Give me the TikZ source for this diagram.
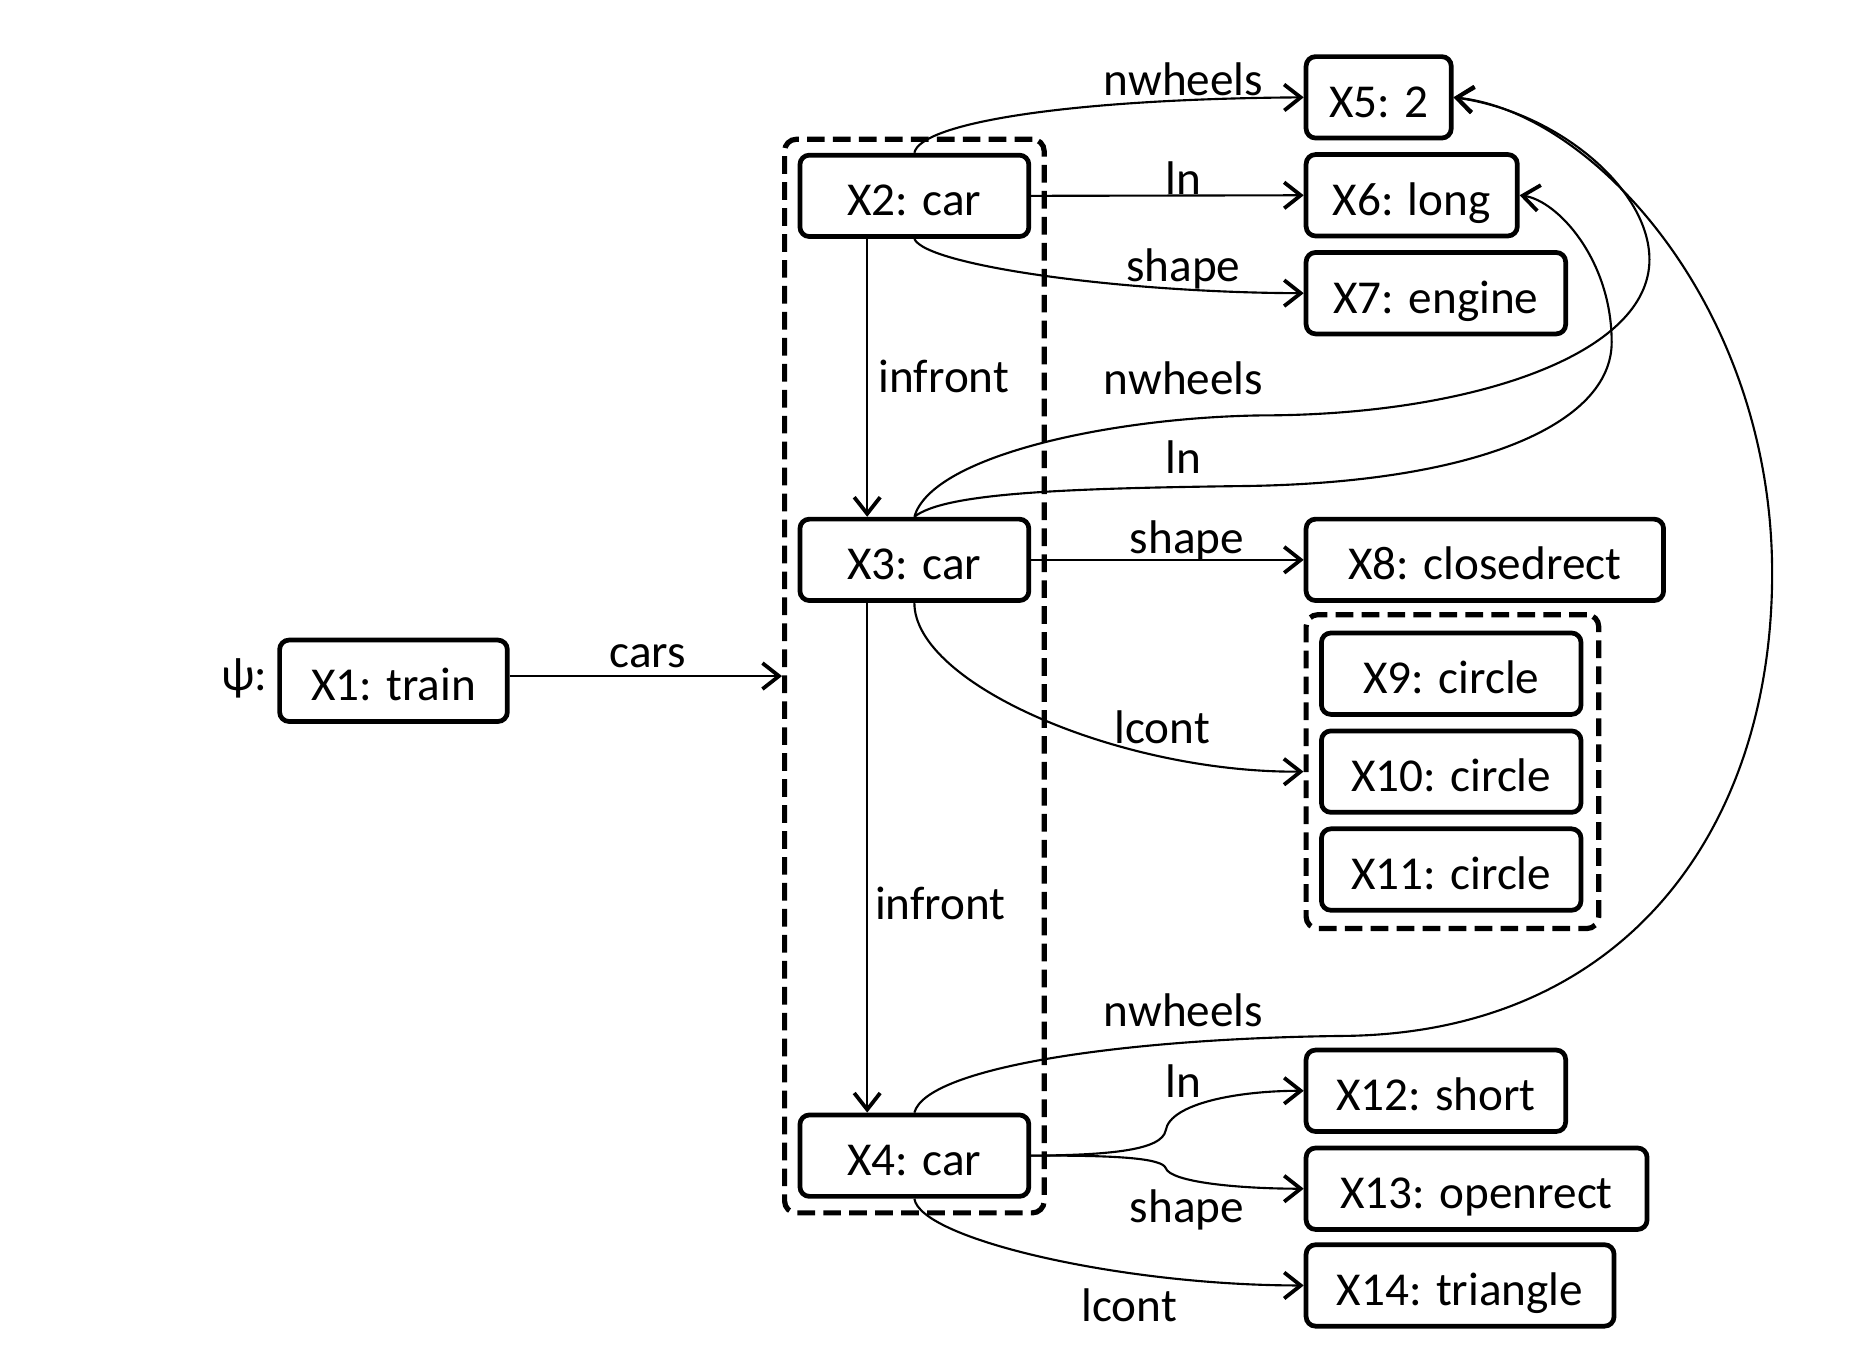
\documentclass[tikz,border=0pt]{standalone}
\usepackage{fontspec}
\setmainfont{Carlito}
\usetikzlibrary{arrows.meta}
\begin{document}
\begin{tikzpicture}[x=0.5pt,y=-0.5pt,
  font=\fontsize{20pt}{24pt}\selectfont,
  box/.style={draw, line width=2pt, rounded corners=4pt, inner sep=0pt, minimum height=34.5pt, text height=17pt, text depth=0pt},
  grp/.style={draw, line width=2.2pt, dash pattern=on 7.5pt off 3.5pt, rounded corners=5pt, inner sep=0pt},
  edge/.style={line width=0.9pt, -{Straight Barb[length=7pt,width=11pt,line width=1.6pt]}},
  lbl/.style={anchor=base, inner sep=0pt}]
\useasboundingbox (0,0) rectangle (1568,1151);
% boxes
\node[box, minimum width=96.5pt] (X1) at (333.5,577) {X1: train};
\node[box, minimum width=97pt] (X2) at (775,166) {X2: car};
\node[box, minimum width=97pt] (X3) at (775,474.5) {X3: car};
\node[box, minimum width=97pt] (X4) at (775,979.5) {X4: car};
\node[box, minimum width=61.5pt] (X5) at (1168.5,82.5) {X5: 2};
\node[box, minimum width=89.5pt] (X6) at (1196.5,165.5) {X6: long};
\node[box, minimum width=110pt] (X7) at (1217,248.5) {X7: engine};
\node[box, minimum width=151.5pt] (X8) at (1258.5,474.5) {X8: closedrect};
\node[box, minimum width=110pt] (X9) at (1230,571) {X9: circle};
\node[box, minimum width=110pt] (X10) at (1230,654) {X10: circle};
\node[box, minimum width=110pt] (X11) at (1230,737) {X11: circle};
\node[box, minimum width=110pt] (X12) at (1217,924.5) {X12: short};
\node[box, minimum width=144.5pt] (X13) at (1251.5,1007.5) {X13: openrect};
\node[box, minimum width=130.5pt] (X14) at (1237.5,1089.5) {X14: triangle};
% groups
\node[grp, minimum width=110pt, minimum height=455pt] (cars) at (775,573) {};
\node[grp, minimum width=124pt, minimum height=133pt] (circ) at (1231,654) {};
\node[lbl] (psi) at (207,585) {ψ:};
% connectors
\coordinate (X1out) at ([yshift=2pt]X1.east);
\draw[edge] (X1out) -- (cars.west |- X1out);
\coordinate (inf) at (735,0);
\draw[edge] (X2.south -| inf) -- (X3.north -| inf);
\draw[edge] (X3.south -| inf) -- (X4.north -| inf);
\draw[edge] (X2.north) .. controls (780,105) and (900,84) .. (X5.west);
\draw[edge] (X2.east) -- (X6.west);
\draw[edge] (X2.south) .. controls (785,225) and (950,248) .. (X7.west);
\draw[edge] (X3.north) .. controls (790,385) and (950,352) .. (1080,352) .. controls (1250,350) and (1398,300) .. (1398,220) .. controls (1398,160) and (1320,95) .. (X5.east);
\draw[edge] (X3.north) .. controls (800,418) and (900,414) .. (1050,412) .. controls (1250,410) and (1366,360) .. (1366,290) .. controls (1366,220) and (1320,170) .. (X6.east);
\draw[edge] (X3.east) -- (X8.west);
\draw[edge] (X3.south) .. controls (775,580) and (950,655) .. (circ.west |- X10.west);
\draw[edge] (X4.north) .. controls (785,905) and (950,880) .. (1140,878) .. controls (1380,875) and (1502,700) .. (1502,486) .. controls (1502,260) and (1350,95) .. (X5.east);
\draw[edge] (X4.east) .. controls (940,979) and (985,975) .. (988,958) .. controls (992,935) and (1050,924.5) .. (X12.west);
\draw[edge] (X4.east) .. controls (950,979) and (985,982) .. (988,990) .. controls (992,1002) and (1050,1007.5) .. (X13.west);
\draw[edge] (X4.south) .. controls (780,1050) and (950,1089.5) .. (X14.west);
% labels
\node[lbl] at (549,566) {cars};
\node[lbl] at (1003,81) {nwheels};
\node[lbl] at (1003,165) {ln};
\node[lbl] at (1003,239) {shape};
\node[lbl] at (800,333) {infront};
\node[lbl] at (1003,334) {nwheels};
\node[lbl] at (1003,401) {ln};
\node[lbl] at (1006,469) {shape};
\node[lbl] at (985,630) {lcont};
\node[lbl] at (797,779) {infront};
\node[lbl] at (1003,870) {nwheels};
\node[lbl] at (1003,930) {ln};
\node[lbl] at (1006,1036) {shape};
\node[lbl] at (957,1120) {lcont};
\end{tikzpicture}
\end{document}
